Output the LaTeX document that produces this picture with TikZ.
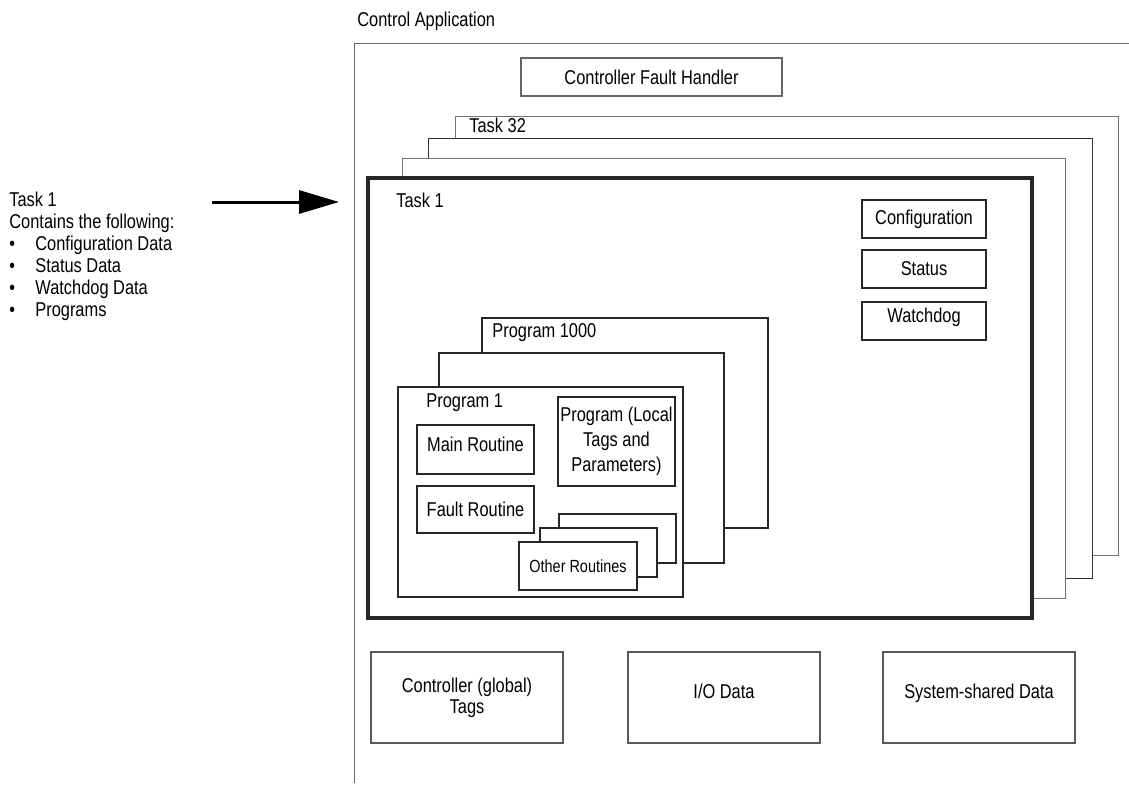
\documentclass[tikz,border=0pt]{standalone}
\usepackage{fontspec}
\setmainfont{Liberation Sans}[FakeStretch=0.82]
\usetikzlibrary{positioning,arrows.meta}

\tikzset{
    frame/.style={draw=black!55, line width=0.5pt, fill=white, anchor=north west, inner sep=0pt, outer sep=0pt},
    box/.style={draw=black!85, line width=0.6pt, fill=white, anchor=north west, inner sep=0pt, outer sep=0pt, align=center},
    lbl/.style={anchor=base west, inner sep=0pt},
    lift/.style={text depth=#1},
}

\begin{document}
\begin{tikzpicture}[x=0.5pt, y=-0.5pt, font=\fontsize{10}{11}\selectfont]
        \useasboundingbox (0,0) rectangle (1129,787);

        % Control application frame
        \coordinate (CA1) at (354,783);
        \coordinate (CA2) at (354,43);
        \coordinate (CA3) at (1129,43);
        \draw[draw=black!60, line width=0.5pt] (CA1) -- (CA2) -- (CA3);
        \node[lbl] (CAlbl) at (357,26) {Control Application};

        % Controller fault handler
        \node[box, draw=black!60, minimum width=130.5pt, minimum height=19pt] (CFH) at (521,58) {Controller Fault Handler};

        % Task stack
        \node[frame, minimum width=331.5pt, minimum height=219.5pt] (T32) at (455,116) {};
        \node[lbl] (T32lbl) at (469,132) {Task 32};
        \node[frame, draw=black!80, minimum width=332pt, minimum height=220pt] (T3) at (428,138) {};
        \node[frame, minimum width=331.5pt, minimum height=220pt] (T2) at (402,158) {};
        \node[frame, draw=black!85, line width=2pt, minimum width=332pt, minimum height=220pt] (T1) at (368,178) {};
        \node[lbl] (T1lbl) at (396,207) {Task 1};

        % Task data
        \node[box, minimum width=62pt, minimum height=19pt] (Cfg) at (862,200) {Configuration};
        \node[box, minimum width=62pt, minimum height=19pt] (Sts) at (862,250) {Status};
        \node[box, lift=6pt, minimum width=62pt, minimum height=19pt] (Wdg) at (862,302) {Watchdog};

        % Program stack
        \node[box, minimum width=143pt, minimum height=105pt] (P1000) at (482,318) {};
        \node[lbl] (P1000lbl) at (492,337) {Program 1000};
        \node[box, minimum width=142.5pt, minimum height=105pt] (P2) at (439,353) {};
        \node[box, minimum width=142.5pt, minimum height=105pt] (P1) at (398,387) {};
        \node[lbl] (P1lbl) at (426,407) {Program 1};

        % Routines and local tags
        \node[box, lift=5pt, minimum width=58.5pt, minimum height=24.5pt] (MainR) at (417,425) {Main Routine};
        \node[box, minimum width=58.5pt, minimum height=23.5pt] (FaultR) at (417,486) {Fault Routine};
        \node[box, minimum width=58.5pt, minimum height=44.5pt, font=\fontsize{10}{12.5}\selectfont] (Local) at (558,397) {Program (Local\\Tags and\\Parameters)};
        \node[box, minimum width=58.5pt, minimum height=24.5pt] (OR3) at (559,514) {};
        \node[box, minimum width=58.5pt, minimum height=24.5pt] (OR2) at (540,528) {};
        \node[box, minimum width=59pt, minimum height=24pt, font=\fontsize{8.8}{10}\selectfont] (OR1) at (519,542) {Other Routines};

        % Shared data
        \node[box, draw=black!65, minimum width=96pt, minimum height=45.5pt, font=\fontsize{10}{10.5}\selectfont] (GTags) at (371,652) {Controller (global)\\Tags};
        \node[box, lift=6pt, draw=black!65, minimum width=96pt, minimum height=45.5pt] (IOData) at (628,652) {I/O Data};
        \node[box, lift=6pt, draw=black!65, minimum width=96pt, minimum height=45.5pt] (SysData) at (883,652) {System-shared Data};

        % Task 1 note and arrow
        \node[anchor=north west, inner sep=0pt, align=left] (Note) at (9,192) {Task 1\\Contains the following:\\
            \makebox[13pt][l]{•}Configuration Data\\
            \makebox[13pt][l]{•}Status Data\\
            \makebox[13pt][l]{•}Watchdog Data\\
            \makebox[13pt][l]{•}Programs};
        \coordinate (ArS) at (212,202);
        \coordinate (ArE) at (339,202);
        \draw[line width=1.5pt, -{Triangle[length=20pt, width=11.5pt]}] (ArS) -- (ArE);
\end{tikzpicture}
\end{document}
